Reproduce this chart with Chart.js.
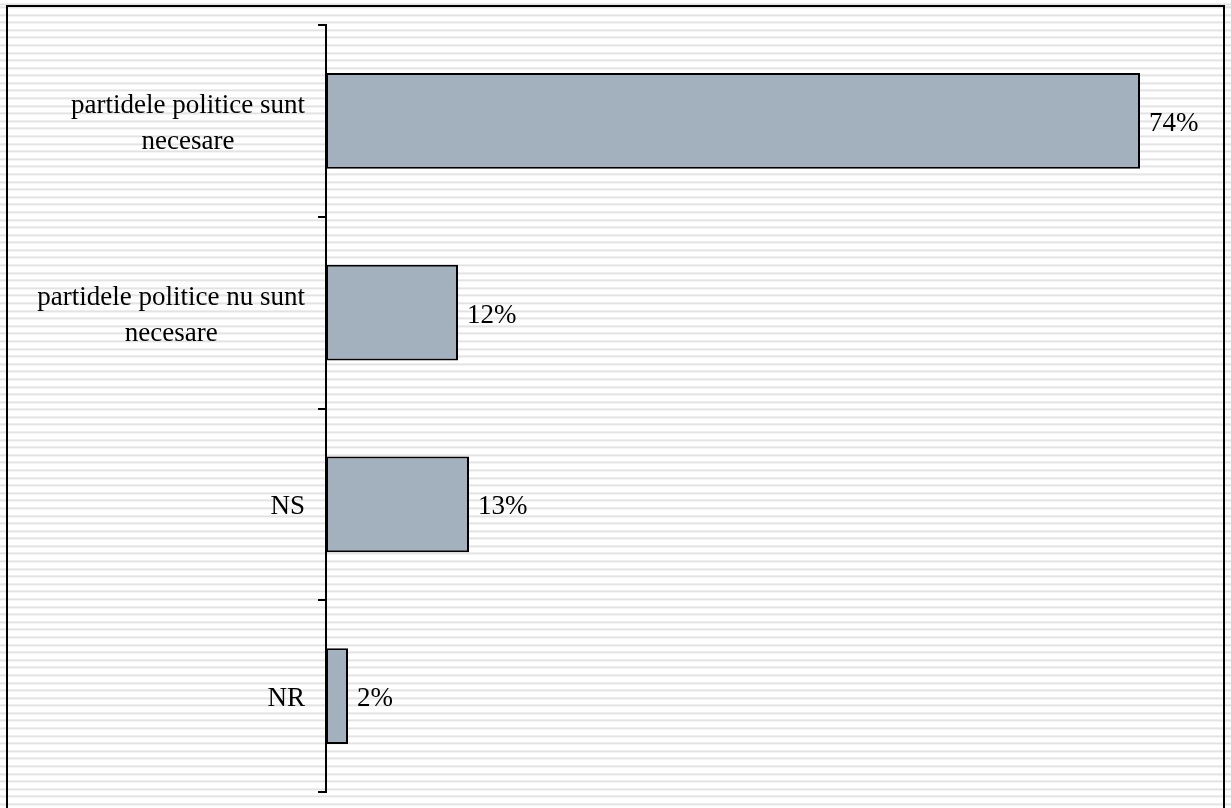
<!DOCTYPE html>
<html>
<head>
<meta charset="utf-8">
<script src="https://cdn.jsdelivr.net/npm/chart.js@4/dist/chart.umd.min.js"></script>
<style>
    html, body {
        margin: 0;
        padding: 0;
        width: 1231px;
        height: 808px;
        overflow: hidden;
        background: repeating-linear-gradient(to bottom, #e3e3e3 0px, #e3e3e3 2px, #ffffff 2px, #ffffff 7.59px);
        background-position: 0 6.4px;
    }
    #frame {
        position: absolute;
        left: 6px;
        top: 5px;
        width: 1215px;
        height: 900px;
        border: 2px solid #000;
    }
    #wrap {
        position: absolute;
        left: 0;
        top: 0;
        width: 1231px;
        height: 808px;
    }
</style>
</head>
<body>
<div id="frame"></div>
<div id="wrap"><canvas id="chart1"></canvas></div>
<script>
// categories (each entry = lines of the label)
const categories = [
    ['partidele politice sunt', 'necesare'],
    ['partidele politice nu sunt', 'necesare'],
    ['NS'],
    ['NR']
];
// percentages
const values = [74, 12, 13, 2];

const labelFont = '27px "Liberation Serif", "Times New Roman", serif';

// category labels: lines centered on each other, block right-aligned next to the axis
const categoryLabels = {
    id: 'categoryLabels',
    afterDraw(chart) {
        const ctx = chart.ctx;
        const yScale = chart.scales.y;
        const right = yScale.right - 21;
        const lineHeight = 36;
        ctx.save();
        ctx.font = labelFont;
        ctx.fillStyle = '#000';
        ctx.textAlign = 'center';
        ctx.textBaseline = 'middle';
        categories.forEach(function (lines, i) {
            const y = yScale.getPixelForValue(i) + 3;
            let w = 0;
            lines.forEach(function (l) { w = Math.max(w, ctx.measureText(l).width); });
            const cx = right - w / 2;
            const top = y - (lines.length - 1) * lineHeight / 2;
            lines.forEach(function (l, k) {
                ctx.fillText(l, cx, top + k * lineHeight);
            });
        });
        ctx.restore();
    }
};

// value labels after each bar
const valueLabels = {
    id: 'valueLabels',
    afterDatasetsDraw(chart) {
        const ctx = chart.ctx;
        const meta = chart.getDatasetMeta(0);
        ctx.save();
        ctx.font = labelFont;
        ctx.fillStyle = '#000';
        ctx.textAlign = 'left';
        ctx.textBaseline = 'middle';
        meta.data.forEach(function (bar, i) {
            ctx.fillText(values[i] + '%', bar.x + 9, bar.y + 3);
        });
        ctx.restore();
    }
};

const config = {
    type: 'bar',
    data: {
        labels: categories,
        datasets: [{
            data: values,
            backgroundColor: '#a3b1bf',
            borderColor: '#000',
            borderWidth: 2,
            borderSkipped: false,
            categoryPercentage: 0.5,
            barPercentage: 1
        }]
    },
    options: {
        indexAxis: 'y',
        responsive: false,
        animation: false,
        layout: {
            padding: { top: 25, bottom: 16, right: 25, left: 0 }
        },
        scales: {
            x: {
                display: false,
                min: 0,
                max: 80
            },
            y: {
                afterFit: function (scale) { scale.width = 326; },
                grid: {
                    offset: true,
                    drawOnChartArea: false,
                    drawTicks: true,
                    tickLength: 8,
                    color: '#000',
                    lineWidth: 2
                },
                border: {
                    display: true,
                    color: '#000',
                    width: 2
                },
                ticks: {
                    display: false
                }
            }
        },
        plugins: {
            legend: { display: false },
            tooltip: { enabled: false }
        }
    },
    plugins: [categoryLabels, valueLabels]
};

const canvas = document.getElementById('chart1');
canvas.width = 1231;
canvas.height = 808;
new Chart(canvas, config);
</script>
</body>
</html>
